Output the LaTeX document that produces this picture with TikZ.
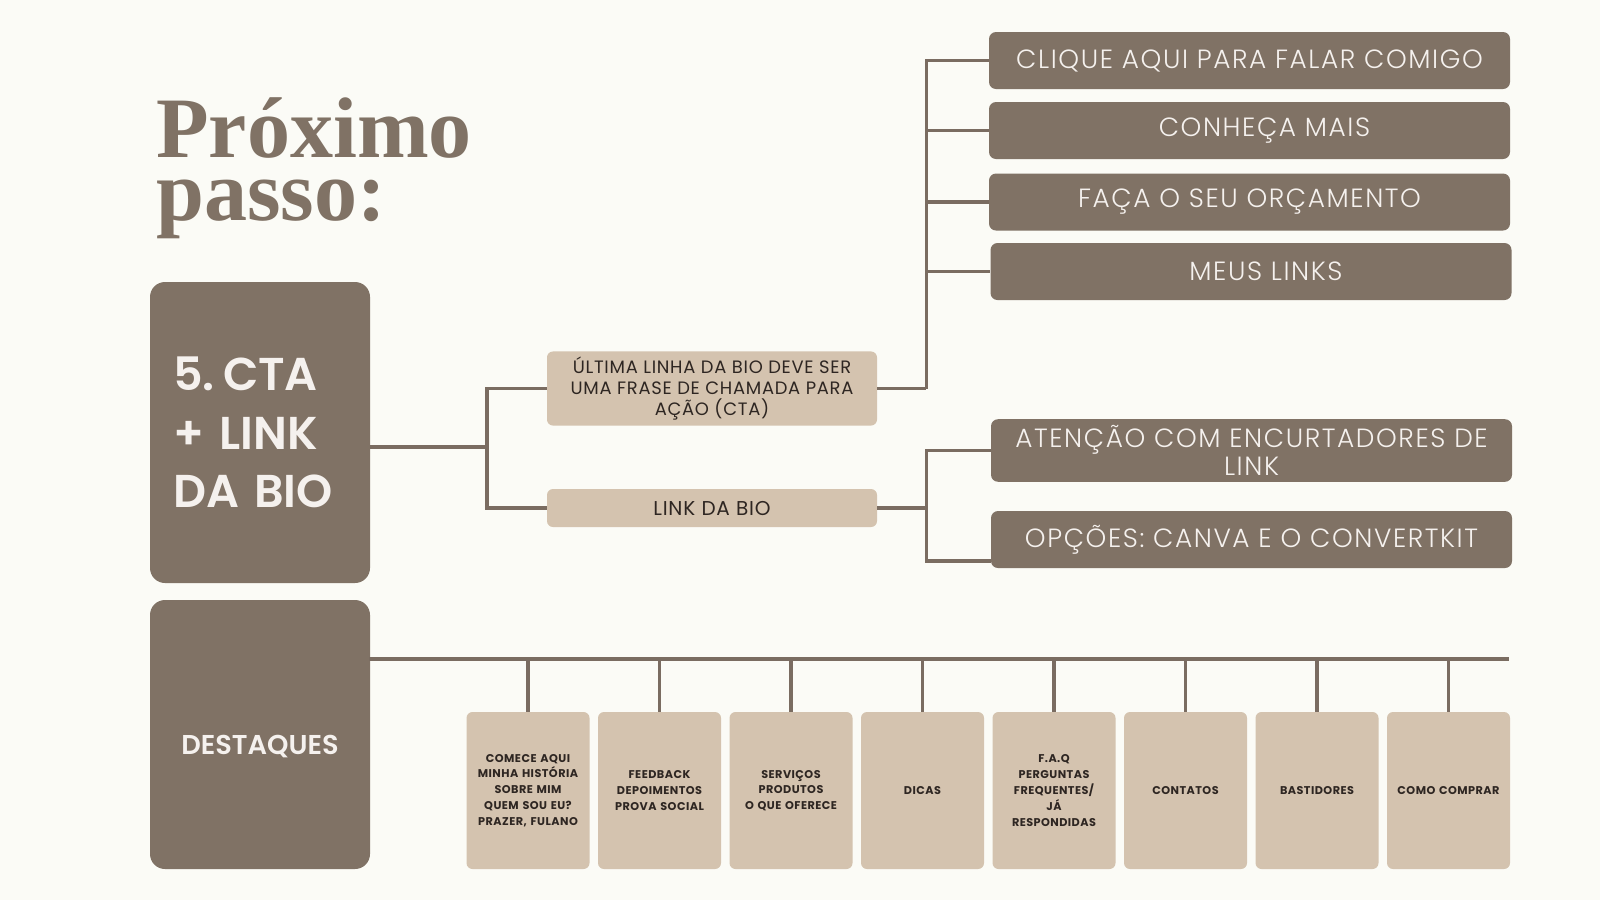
\documentclass[tikz,border=0pt]{standalone}
\usepackage{fontspec}
\setmainfont{Poppins}[LetterSpace=4]
\newfontfamily\lightfont{Poppins Light}[LetterSpace=6]
\newfontfamily\semifont{Poppins SemiBold}[WordSpace=0.6]
\newfontfamily\titlefont{Liberation Serif}
\usepackage{xcolor}
\usetikzlibrary{positioning}
\definecolor{bgcream}{HTML}{FBFBF6}
\definecolor{boxdark}{HTML}{807265}
\definecolor{boxlight}{HTML}{D4C3AF}
\definecolor{linebrown}{HTML}{7A6C61}
\definecolor{inkdark}{HTML}{2E2622}
\definecolor{inklight}{HTML}{F5F1EE}

\begin{document}
\begin{tikzpicture}[x=0.2mm,y=-0.2mm,
  darkbox/.style={fill=boxdark,rounded corners=1.4mm,text=inklight,minimum width=104.2mm,minimum height=11.4mm,align=center,font=\lightfont\fontsize{15}{16.3}\selectfont},
  lightbox/.style={fill=boxlight,rounded corners=1.2mm,text=inkdark,minimum width=66mm,align=center,font=\fontsize{10.2}{11.7}\selectfont},
  tilebox/.style={fill=boxlight,rounded corners=1.2mm,text=inkdark,minimum height=31.4mm,text width=23mm,inner xsep=0.8mm,align=center,font=\bfseries\fontsize{6.4}{9}\selectfont},
  bigbox/.style={fill=boxdark,rounded corners=3mm,text=inklight,minimum width=44mm},
  conn/.style={draw=linebrown,line width=1.9pt}]
\fill[bgcream] (0,0) rectangle (1600,900);
\useasboundingbox (0,0) rectangle (1600,900);

\node[anchor=base west,inner sep=0,align=left,text=boxdark,font=\titlefont\bfseries\fontsize{49}{35.8}\selectfont] (title) at (156,220) {Próximo\\passo:};

\node[bigbox,minimum height=60.2mm,text width=34.8mm,inner xsep=4.6mm,align=left,font=\semifont\fontsize{26.2}{33.3}\selectfont] (cta) at (260,432.5) {5.\kern-0.15em\ CTA\\+ LINK\\DA BIO};
\node[bigbox,minimum height=53.8mm,font=\semifont\fontsize{15.5}{18}\selectfont] (destaques) at (260,734.5) {\raisebox{-2mm}[\height][0pt]{DESTAQUES}};

\node[lightbox,minimum height=13.4mm] (ultima) at (712,388.5) {ÚLTIMA LINHA DA BIO DEVE SER\\UMA FRASE DE CHAMADA PARA\\AÇÃO (CTA)};
\node[lightbox,minimum height=7.6mm,font=\fontsize{11.4}{13}\selectfont] (linkbio) at (712,508) {LINK DA BIO};

\node[darkbox] (clique) at (1249.5,60.5) {CLIQUE AQUI PARA FALAR COMIGO};
\node[darkbox] (conheca) at (1249.5,130.5) {\hspace*{6mm}CONHEÇA MAIS};
\node[darkbox] (faca) at (1249.5,202) {FAÇA O SEU ORÇAMENTO};
\node[darkbox] (meus) at (1251,271.5) {\hspace*{6mm}MEUS LINKS};
\node[darkbox] (atencao) at (1251.5,450.5) {ATENÇÃO COM ENCURTADORES DE\\LINK};
\node[darkbox] (opcoes) at (1251.5,539.5) {OPÇÕES: CANVA E O CONVERTKIT};

\foreach \t [count=\i] in {{COMECE AQUI\\MINHA HISTÓRIA\\SOBRE MIM\\QUEM SOU EU?\\PRAZER, FULANO},
  {FEEDBACK\\DEPOIMENTOS\\PROVA SOCIAL},{SERVIÇOS\\PRODUTOS\\O QUE OFERECE},{DICAS},
  {F.A.Q\\PERGUNTAS\\FREQUENTES/\\JÁ\\RESPONDIDAS},{CONTATOS},{BASTIDORES},{COMO COMPRAR}}
  \node[tilebox] (tile\i) at ({528+131.5*(\i-1)},790.5) {\t};

\coordinate (ctaout) at (370,447);
\coordinate (j1) at (487,447);
\draw[conn] (ctaout) -- (j1);
\draw[conn] (j1) |- (ultima);
\draw[conn] (j1) |- (linkbio);

\draw[conn] (ultima.east) -- ++(49,0) coordinate (j2);
\foreach \n in {clique,conheca,faca,meus}
  \draw[conn] (j2) |- (\n);

\draw[conn] (linkbio.east) -- ++(49,0) coordinate (j3);
\draw[conn] (j3) |- (atencao);
\draw[conn] (j3) |- ([yshift=-4.3mm]opcoes.west);

\coordinate (dout) at (369,659);
\coordinate (busend) at (1509,659);
\draw[conn] (dout) -- (busend);
\foreach \i in {1,...,8}
  \draw[conn] (tile\i.north) -- (tile\i.north |- dout);
\end{tikzpicture}
\end{document}
